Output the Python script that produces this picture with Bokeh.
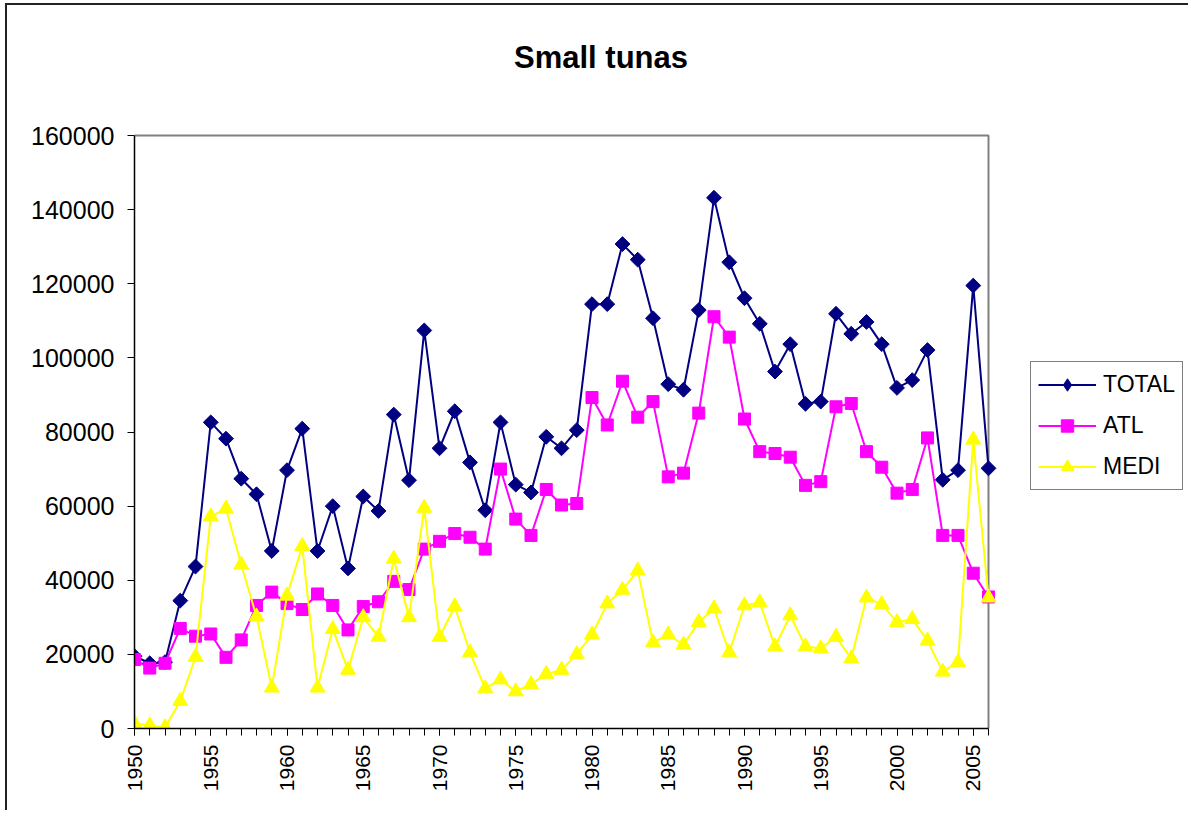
import math
from bokeh.plotting import figure
from bokeh.models import (FixedTicker, BasicTickFormatter, Range1d, Legend, LegendItem,
                          ColumnDataSource, Label)
from bokeh.embed import file_html
from bokeh.resources import INLINE

years = list(range(1950, 2007))

total = [19500, 17600, 17900, 34500, 43700, 82600, 78200, 67400, 63200, 47900,
         69700, 80900, 47900, 60000, 43200, 62600, 58700, 84700, 67000, 107400,
         75600, 85600, 71800, 58900, 82600, 65800, 63700, 78700, 75600, 80500,
         114500, 114500, 130700, 126500, 110700, 92900, 91400, 112900, 143200, 125800,
         116100, 109200, 96300, 103700, 87600, 88200, 111900, 106500, 109700, 103700,
         91900, 94000, 102100, 67100, 69700, 119500, 70200]

atl = [18600, 16300, 17600, 27000, 24900, 25500, 19200, 23900, 33200, 36800,
       33700, 32100, 36300, 33200, 26600, 32900, 34200, 39700, 37500, 48400,
       50500, 52600, 51600, 48400, 70000, 56500, 52100, 64500, 60300, 60700,
       89300, 81900, 93700, 84000, 88200, 67900, 68900, 85100, 111100, 105600,
       83500, 74700, 74200, 73200, 65600, 66600, 86800, 87700, 74700, 70500,
       63500, 64500, 78400, 52100, 52100, 41900, 35500]

medi = [1400, 800, 300, 7400, 19300, 57200, 59300, 44200, 30200, 11000,
        35800, 49200, 11000, 26800, 15800, 30000, 24700, 45800, 30000, 59500,
        24700, 32900, 20500, 10800, 13200, 10000, 11900, 14700, 15800, 20000,
        25300, 33700, 37400, 42600, 23200, 25300, 22600, 28700, 32400, 20500,
        33200, 34000, 22100, 30500, 22100, 21600, 24700, 18900, 35300, 33500,
        28700, 29500, 23700, 15300, 17900, 77900, 35300]

y_ticks = list(range(0, 160001, 20000))
x_label_ticks = list(range(1950, 2006, 5))
title_text = "Small tunas"

FONT = "Liberation Sans"

# axis limits of the plot area
X0, X1 = 1950, 2006
Y0, Y1 = 0, 160000

# page geometry (pixels) of the plot area and the canvas
CANVAS_X, CANVAS_Y = 7, 5
PAGE_W, PAGE_H = 1190, 812
AREA_L, AREA_R, AREA_T, AREA_B = 134, 988, 135, 728
px_x = (AREA_R - AREA_L) / (X1 - X0)      # pixels per year
px_y = (AREA_B - AREA_T) / (Y1 - Y0)      # pixels per unit
x_end = X0 + (PAGE_W - AREA_L) / px_x
y_end = Y0 + (AREA_B - CANVAS_Y) / px_y

p = figure(width=PAGE_W - CANVAS_X, height=PAGE_H - CANVAS_Y,
           output_backend="svg", toolbar_location=None, title=None,
           x_range=Range1d(X0, x_end), y_range=Range1d(Y0, y_end),
           min_border_left=AREA_L - CANVAS_X, min_border_right=0, min_border_top=0,
           min_border_bottom=PAGE_H - AREA_B)
p.styles = {"margin-left": "5px", "margin-top": "3px",
            "border-left": "2px solid #222222", "border-top": "2px solid #222222"}

p.xgrid.visible = False
p.ygrid.visible = False
p.outline_line_color = None
p.background_fill_color = "white"
p.border_fill_color = "white"

xa = p.xaxis[0]
xa.bounds = (X0, X1)
xa.ticker = FixedTicker(ticks=x_label_ticks, minor_ticks=years)
xa.major_tick_out = 7
xa.major_tick_in = 0
xa.minor_tick_out = 7
xa.minor_tick_in = 0
xa.major_label_orientation = math.pi / 2
xa.major_label_text_font = FONT
xa.major_label_text_font_size = "21px"
xa.major_label_text_color = "black"
xa.major_label_standoff = 9
xa.axis_line_color = "black"
xa.axis_line_width = 1.5
xa.major_tick_line_color = "black"
xa.minor_tick_line_color = "black"

ya = p.yaxis[0]
ya.bounds = (Y0, Y1)
ya.ticker = FixedTicker(ticks=y_ticks, minor_ticks=[])
ya.formatter = BasicTickFormatter(use_scientific=False)
ya.major_tick_out = 7
ya.major_tick_in = 0
ya.minor_tick_out = 0
ya.minor_tick_in = 0
ya.major_label_text_font = FONT
ya.major_label_text_font_size = "25px"
ya.major_label_text_color = "black"
ya.major_label_standoff = 13
ya.axis_line_color = "black"
ya.axis_line_width = 1.5
ya.major_tick_line_color = "black"

# gray border of the plot area (top and right sides)
p.line([X0, X1, X1], [Y1, Y1, Y0], line_color="#808080", line_width=2)

l1 = p.line(years, total, line_color="#000080", line_width=2)
m1 = p.scatter(years, total, marker="square", angle=math.pi / 4, size=10.5,
               fill_color="#000080", line_color="#000080")
l2 = p.line(years, atl, line_color="#FF00FF", line_width=2)
m2 = p.scatter(years, atl, marker="square", size=12,
               fill_color="#FF00FF", line_color="#FF00FF")
l3 = p.line(years, medi, line_color="#FFFF00", line_width=2)
m3 = p.scatter(years, medi, marker="triangle", size=15,
               fill_color="#FFFF00", line_color="#FFFF00")

# legend-only diamond glyph (a single NaN point, never drawn in the plot)
nan_src = ColumnDataSource(data=dict(x=[float("nan")], y=[float("nan")]))
d1 = p.scatter("x", "y", source=nan_src, marker="diamond", size=17,
               fill_color="#000080", line_color="#000080")

# chart title
title_x = X0 + (600.5 - AREA_L) / px_x
title_y = Y0 + (AREA_B - 57) / px_y
p.add_layout(Label(x=title_x, y=title_y, text=title_text, text_align="center",
                   text_baseline="alphabetic", text_font=FONT, text_font_style="bold",
                   text_font_size="31px", text_color="black"))

legend = Legend(items=[
    LegendItem(label="TOTAL", renderers=[l1, d1]),
    LegendItem(label="ATL", renderers=[l2, m2]),
    LegendItem(label="MEDI", renderers=[l3, m3]),
])
legend.location = (1030 - AREA_L, AREA_B - 490)
legend.margin = 0
legend.padding = 7
legend.spacing = 10
legend.glyph_width = 58
legend.glyph_height = 31
legend.label_height = 31
legend.label_standoff = 7
legend.label_text_font = FONT
legend.label_text_font_size = "23px"
legend.label_text_color = "black"
legend.border_line_color = "black"
legend.border_line_width = 1
legend.background_fill_color = "white"
p.add_layout(legend, "center")

open("out.html", "w").write(file_html(p, INLINE))
